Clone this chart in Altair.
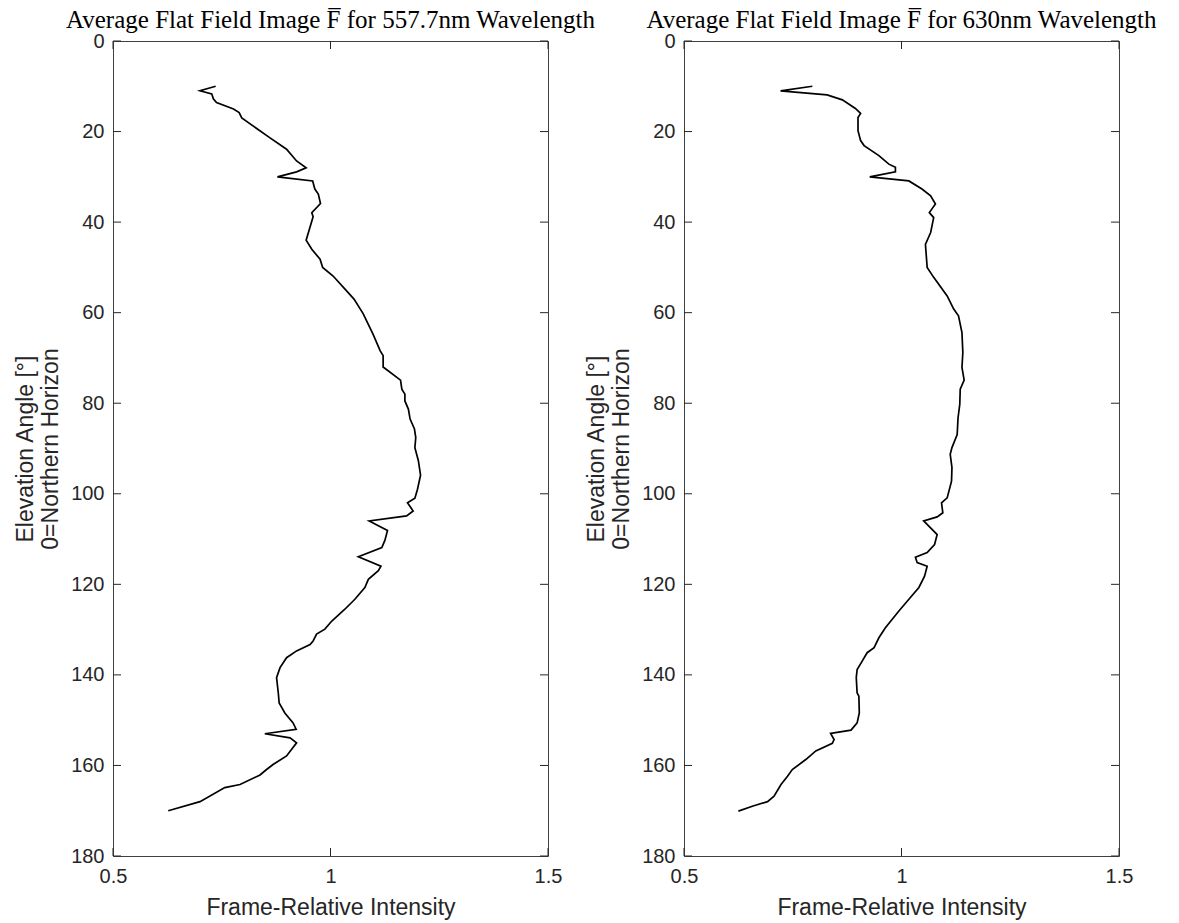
import altair as alt
import pandas as pd

# Average flat-field profile along the meridian, 557.7 nm channel
elev_5577 = [10, 11, 11.7, 12.8, 13.6, 15, 15.8, 17, 21.4, 23.9, 26.5, 28, 28.9, 30, 30.9,
             32.7, 33.8, 35.9, 37.9, 38.8, 44, 46, 48.2, 50, 51.9, 55.2, 57, 60.2, 64.8,
             68.4, 69.5, 72, 74.9, 76.9, 78, 79.5, 81.3, 83.5, 85.7, 87.6, 89.8, 92.7, 95.9,
             99, 101, 102, 103.8, 104.9, 106, 108.1, 110.3, 111.9, 113.9, 116, 117, 118.9,
             120.7, 123.3, 125.5, 128.1, 129.9, 131, 132.5, 133.3, 134.7, 136.2, 138.4,
             140.6, 144, 146.2, 148.4, 150.6, 152, 153, 153.9, 155, 157.9, 159.8, 160.9,
             162.1, 164.2, 164.9, 168, 170]
int_5577 = [0.736, 0.700, 0.727, 0.731, 0.738, 0.777, 0.790, 0.796, 0.861, 0.899, 0.922, 0.944,
            0.922, 0.878, 0.959, 0.964, 0.972, 0.977, 0.957, 0.960, 0.944, 0.957, 0.976, 0.982,
            1.006, 1.037, 1.054, 1.075, 1.098, 1.114, 1.121, 1.121, 1.161, 1.164, 1.171, 1.171,
            1.179, 1.183, 1.193, 1.196, 1.194, 1.202, 1.207, 1.200, 1.194, 1.177, 1.190, 1.175,
            1.089, 1.131, 1.125, 1.118, 1.064, 1.116, 1.110, 1.087, 1.079, 1.056, 1.033, 1.003,
            0.987, 0.968, 0.960, 0.953, 0.922, 0.899, 0.884, 0.876, 0.880, 0.882, 0.895, 0.914,
            0.921, 0.849, 0.907, 0.922, 0.899, 0.868, 0.853, 0.838, 0.792, 0.757, 0.700, 0.627]

# Same profile for the 630 nm channel
elev_630 = [10, 11, 11.9, 13, 14.9, 16, 16.9, 19.8, 22, 23.1, 25.3, 27.2, 27.9, 28.9, 30, 30.9,
            32.7, 34.2, 36, 37.9, 39, 42.3, 44.9, 50, 52.2, 56.3, 59.2, 60.7, 64.4, 68.8, 72.1,
            74.9, 76.9, 80.2, 83.2, 86.9, 89.8, 91.3, 94.2, 97.2, 100.9, 102, 104.2, 105.1, 106,
            109, 111.2, 113, 114, 115.2, 116, 118.2, 120.7, 123.3, 125.9, 129.6, 131.8, 134,
            135.1, 136.9, 138.8, 140.6, 144, 144.7, 148.4, 150.6, 152.2, 152.9, 154.3, 155.1,
            156.8, 158.7, 160.9, 162.4, 164.2, 166.8, 168, 169, 170.1]
int_630 = [0.795, 0.722, 0.829, 0.864, 0.894, 0.906, 0.900, 0.900, 0.906, 0.914, 0.948, 0.971,
           0.986, 0.986, 0.927, 1.017, 1.047, 1.067, 1.078, 1.064, 1.074, 1.067, 1.055, 1.059,
           1.074, 1.105, 1.120, 1.131, 1.139, 1.141, 1.139, 1.144, 1.135, 1.134, 1.130, 1.128,
           1.116, 1.112, 1.116, 1.115, 1.105, 1.092, 1.095, 1.082, 1.051, 1.082, 1.076, 1.059,
           1.032, 1.036, 1.059, 1.053, 1.040, 1.017, 0.994, 0.963, 0.948, 0.937, 0.921, 0.910,
           0.898, 0.896, 0.898, 0.902, 0.903, 0.898, 0.884, 0.837, 0.845, 0.841, 0.803, 0.780,
           0.749, 0.738, 0.723, 0.707, 0.692, 0.657, 0.625]

elev_ticks = [0, 20, 40, 60, 80, 100, 120, 140, 160, 180]
int_ticks = [0.5, 1.0, 1.5]

titles = ["Average Flat Field Image F\u0305 for 557.7nm Wavelength",
          "Average Flat Field Image F\u0305 for 630nm Wavelength"]

W, H = 435, 815
TICK = 8
AX = "#262626"


def panel(elev, inten, title):
    df = pd.DataFrame({"elevation": elev, "intensity": inten})
    xs = alt.Scale(domain=[0.5, 1.5], nice=False, zero=False)
    ys = alt.Scale(domain=[0, 180], reverse=True, nice=False, zero=False)
    x_axis = alt.Axis(values=int_ticks, format="~g", title="Frame-Relative Intensity",
                      labelPadding=10, titlePadding=10)
    y_axis = alt.Axis(values=elev_ticks, title=["Elevation Angle [°]", "0=Northern Horizon"],
                      labelPadding=9, titlePadding=8)

    line = alt.Chart(df).mark_line(color="black", strokeWidth=1.7).encode(
        x=alt.X("intensity:Q", scale=xs, axis=x_axis),
        y=alt.Y("elevation:Q", scale=ys, axis=y_axis),
        order=alt.Order("elevation:Q"),
    )

    # inward tick marks on all four sides of the box
    ydf = pd.DataFrame({"elevation": elev_ticks})
    xdf = pd.DataFrame({"intensity": int_ticks})
    rule = dict(color=AX, strokeWidth=1)
    left_t = alt.Chart(ydf).mark_rule(**rule).encode(
        y=alt.Y("elevation:Q", scale=ys, axis=y_axis), x=alt.value(0), x2=alt.value(TICK))
    right_t = alt.Chart(ydf).mark_rule(**rule).encode(
        y=alt.Y("elevation:Q", scale=ys, axis=y_axis), x=alt.value(W), x2=alt.value(W - TICK))
    bottom_t = alt.Chart(xdf).mark_rule(**rule).encode(
        x=alt.X("intensity:Q", scale=xs, axis=x_axis), y=alt.value(H), y2=alt.value(H - TICK))
    top_t = alt.Chart(xdf).mark_rule(**rule).encode(
        x=alt.X("intensity:Q", scale=xs, axis=x_axis), y=alt.value(0), y2=alt.value(TICK))

    return alt.layer(line, left_t, right_t, bottom_t, top_t).properties(
        width=W, height=H,
        title=alt.TitleParams(title, font="Liberation Serif", fontSize=25,
                              fontWeight="normal", color="black", anchor="middle",
                              frame="group", baseline="alphabetic", offset=-22),
    )


chart = alt.hconcat(
    panel(elev_5577, int_5577, titles[0]),
    panel(elev_630, int_630, titles[1]),
    spacing=136, bounds="flush",
).properties(
    padding={"left": 14, "top": 7, "right": 5, "bottom": 5},
    background="white",
).configure_view(
    stroke="#404040", strokeWidth=1
).configure_axis(
    labelFont="Liberation Sans", labelFontSize=20, labelColor=AX,
    titleFont="Liberation Sans", titleFontSize=23, titleFontWeight="normal",
    titleColor=AX, ticks=False, domain=False, grid=False,
    labelFlush=False, labelOverlap=False,
)

chart.save("out.html", embed_options={"renderer": "svg", "actions": False})
